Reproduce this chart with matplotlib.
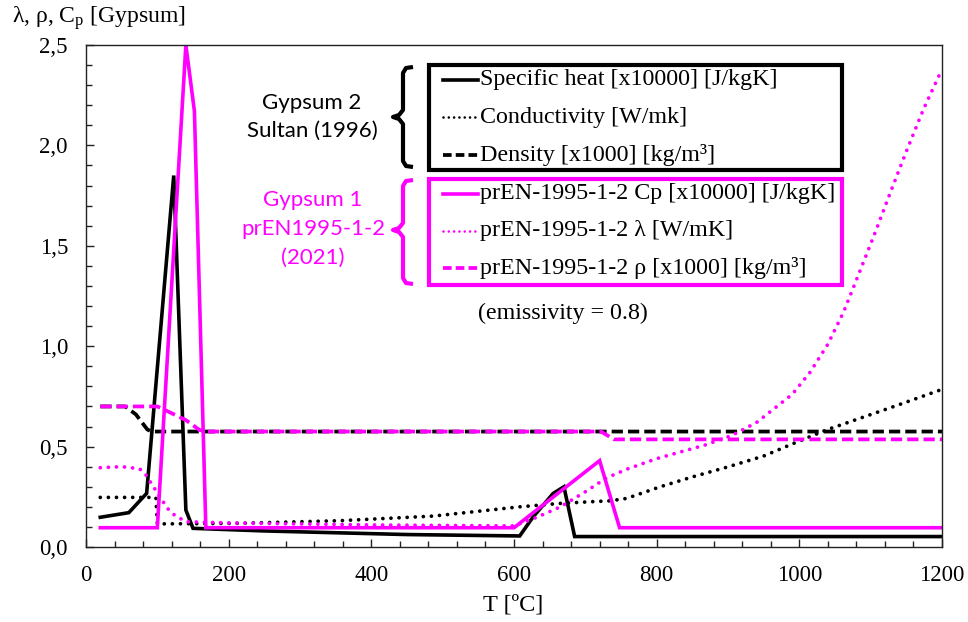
import matplotlib
matplotlib.use("Agg")
import matplotlib.pyplot as plt
from matplotlib.lines import Line2D
from matplotlib.patches import Rectangle
from matplotlib.ticker import MultipleLocator, FuncFormatter

# ---------------- data ----------------
# Gypsum 2 - Sultan (1996)
sultan_cp_T = [20, 60, 85, 123, 140, 150, 250, 450, 608, 627, 655, 670, 685, 1200]
sultan_cp = [0.148, 0.171, 0.267, 1.85, 0.184, 0.093, 0.080, 0.062, 0.055, 0.151,
             0.267, 0.300, 0.052, 0.052]

sultan_k_T = [20, 98, 100, 216, 356, 487, 608, 664, 711, 735, 758, 805, 851, 898,
              950, 992, 1038, 1085, 1132, 1200]
sultan_k = [0.247, 0.247, 0.115, 0.118, 0.131, 0.154, 0.200, 0.217, 0.226, 0.230,
            0.242, 0.300, 0.350, 0.397, 0.453, 0.516, 0.583, 0.641, 0.699, 0.785]

sultan_rho_T = [20, 55, 70, 86, 92, 1200]
sultan_rho = [0.70, 0.70, 0.66, 0.585, 0.575, 0.575]

# Gypsum 1 - prEN1995-1-2 (2021)
pren_cp_T = [20, 100, 140, 152, 168, 600, 720, 748, 1200]
pren_cp = [0.096, 0.096, 2.50, 2.17, 0.096, 0.096, 0.43, 0.096, 0.096]

pren_k_T = [20, 50, 75, 84, 96, 114, 124, 140, 200, 400, 600, 632, 665, 700, 730,
            760, 800, 835, 870, 905, 940, 990, 1015, 1040, 1062, 1080, 1104, 1127,
            1150, 1174, 1200]
pren_k = [0.395, 0.400, 0.390, 0.359, 0.292, 0.193, 0.159, 0.126, 0.120, 0.110,
          0.105, 0.148, 0.200, 0.275, 0.345, 0.390, 0.440, 0.475, 0.510, 0.555,
          0.620, 0.760, 0.870, 1.010, 1.170, 1.330, 1.545, 1.760, 1.970, 2.180,
          2.380]

pren_rho_T = [20, 100, 112, 140, 159, 168, 722, 740, 1200]
pren_rho = [0.70, 0.70, 0.68, 0.632, 0.583, 0.575, 0.575, 0.536, 0.536]

legend_black = ["Specific heat [x10000] [J/kgK]", "Conductivity [W/mk]",
                "Density [x1000] [kg/m³]"]
legend_magenta = ["prEN-1995-1-2 Cp [x10000] [J/kgK]", "prEN-1995-1-2 λ [W/mK]",
                  "prEN-1995-1-2 ρ [x1000] [kg/m³]"]

# ---------------- style ----------------
W, H = 968, 622
MAGENTA = "#FF00FF"
SERIF = "Liberation Serif"
SANS = "Lato"

plt.rcParams["font.family"] = [SERIF, "DejaVu Serif"]
plt.rcParams["mathtext.fontset"] = "custom"
plt.rcParams["mathtext.rm"] = SERIF
plt.rcParams["mathtext.it"] = SERIF + ":italic"

LW = 2.6
DOT_LW = 2.7
DOT = (0, (0.01, 2.15))
DASH = (0, (3.0, 1.35))

fig = plt.figure(figsize=(W / 100, H / 100), dpi=100)
ax = fig.add_axes([86 / W, 1 - 547 / H, (942 - 86) / W, (547 - 45) / H])


def fx(px):
    return px / W


def fy(py):
    return 1 - py / H


# curves
ax.plot(sultan_cp_T, sultan_cp, color="black", lw=LW, solid_joinstyle="miter")
ax.plot(sultan_k_T, sultan_k, color="black", lw=DOT_LW, linestyle=DOT,
        dash_capstyle="round")
ax.plot(sultan_rho_T, sultan_rho, color="black", lw=2.7, linestyle=DASH)
ax.plot(pren_cp_T, pren_cp, color=MAGENTA, lw=LW, solid_joinstyle="miter")
ax.plot(pren_k_T, pren_k, color=MAGENTA, lw=DOT_LW, linestyle=DOT,
        dash_capstyle="round")
ax.plot(pren_rho_T, pren_rho, color=MAGENTA, lw=2.7, linestyle=DASH)

# axes
ax.set_xlim(0, 1200)
ax.set_ylim(0, 2.5)
ax.xaxis.set_major_locator(MultipleLocator(200))
ax.xaxis.set_minor_locator(MultipleLocator(40))
ax.yaxis.set_major_locator(MultipleLocator(0.5))
ax.yaxis.set_minor_locator(MultipleLocator(0.1))
ax.xaxis.set_major_formatter(FuncFormatter(lambda v, _: f"{v:.0f}"))
ax.yaxis.set_major_formatter(FuncFormatter(lambda v, _: f"{v:.1f}".replace(".", ",")))
ax.tick_params(which="both", direction="in", top=False, right=False,
               width=1.0, color="#222222")
ax.tick_params(which="major", length=6, labelsize=16.5)
ax.tick_params(axis="x", which="major", pad=13)
ax.tick_params(axis="y", which="major", pad=13)
ax.tick_params(which="minor", length=4.5)
for sp in ax.spines.values():
    sp.set_linewidth(1.0)
    sp.set_color("#222222")

# axis titles
fig.text(fx(12), fy(18), r"λ, ρ, C$_{\mathrm{p}}$ [Gypsum]", ha="left",
         va="center", fontsize=17)
fig.text(fx(513), fy(605), "T [ºC]", ha="center", va="center", fontsize=17.5)

# legend boxes
for top, bot, col in [(65, 170, "black"), (179, 285, MAGENTA)]:
    fig.add_artist(Rectangle((fx(429), fy(bot)), fx(842) - fx(429),
                             fy(top) - fy(bot), transform=fig.transFigure,
                             fill=False, lw=3, ec=col))

# legend entries
styles = [dict(linestyle="-", lw=LW),
          dict(linestyle=(0, (0.01, 2.0)), lw=1.9, dash_capstyle="round"),
          dict(linestyle=(0, (2.3, 1.1)), lw=2.7)]
rows_black = [80, 117, 155]
rows_mag = [194, 231, 268]
for rows, labels, col in [(rows_black, legend_black, "black"),
                          (rows_mag, legend_magenta, MAGENTA)]:
    for y, lab, st in zip(rows, labels, styles):
        fig.add_artist(Line2D([fx(443), fx(478)], [fy(y), fy(y)],
                              transform=fig.transFigure, color=col, **st))
        fig.text(fx(480), fy(y), lab, ha="left", va="center", fontsize=17.3,
                 color="black")


# curly braces grouping the legend entries
def brace(top, mid, bot, col):
    pts = [(413, top), (406, top + 1), (403, top + 6), (403, mid - 7),
           (399, mid - 2), (393, mid), (399, mid + 2), (403, mid + 7),
           (403, bot - 6), (406, bot - 1), (413, bot)]
    fig.add_artist(Line2D([fx(p[0]) for p in pts], [fy(p[1]) for p in pts],
                          transform=fig.transFigure, color=col, lw=3,
                          solid_joinstyle="round", solid_capstyle="butt"))


brace(67, 117, 167, "black")
brace(180, 230, 284, MAGENTA)

# group names
fig.text(fx(312), fy(103), "Gypsum 2", ha="center", va="center",
         fontsize=16, family=SANS, color="black")
fig.text(fx(312), fy(131), "Sultan (1996)", ha="center", va="center",
         fontsize=16, family=SANS, color="black")
fig.text(fx(313), fy(200), "Gypsum 1", ha="center", va="center",
         fontsize=16, family=SANS, color=MAGENTA)
fig.text(fx(313), fy(229), "prEN1995-1-2", ha="center", va="center",
         fontsize=16, family=SANS, color=MAGENTA)
fig.text(fx(313), fy(258), "(2021)", ha="center", va="center",
         fontsize=16, family=SANS, color=MAGENTA)

fig.text(fx(563), fy(313), "(emissivity = 0.8)", ha="center", va="center",
         fontsize=17.3)

fig.savefig("out.png", dpi=100)
